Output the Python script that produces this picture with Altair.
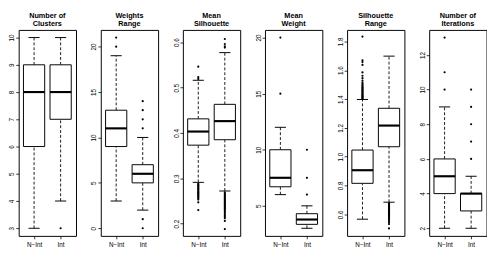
import altair as alt
import pandas as pd

groups = ["N−Int", "Int"]
positions = [1, 2]

titles = [["Number of", "Clusters"], ["Weights", "Range"], ["Mean", "Silhouette"],
          ["Mean", "Weight"], ["Silhouette", "Range"], ["Number of", "Iterations"]]

# per panel: [N-Int, Int]
whisk_lo = [[3, 4], [3, 2], [0.291, 0.272], [6, 3], [0.566, 0.684], [2, 2]]
quart_1 = [[6, 7], [9, 5], [0.373, 0.385], [6.7, 3.35], [0.815, 1.069], [4, 3]]
medians = [[8, 8], [11, 6], [0.403, 0.426], [7.5, 3.78], [0.906, 1.216], [5, 4]]
quart_3 = [[9, 9], [13, 7], [0.431, 0.463], [10, 4.3], [1.046, 1.336], [6, 4]]
whisk_hi = [[10, 10], [19, 10], [0.516, 0.577], [12, 5], [1.397, 1.698], [9, 5]]

out_nint = [
    [],
    [20, 21],
    [0.519, 0.523, 0.546, 0.288, 0.286, 0.284, 0.282, 0.280, 0.278, 0.276, 0.274, 0.272,
     0.270, 0.268, 0.266, 0.264, 0.262, 0.260, 0.258, 0.256, 0.253, 0.247, 0.230],
    [15, 20],
    [1.400, 1.405, 1.410, 1.415, 1.420, 1.425, 1.430, 1.436, 1.442, 1.448, 1.454, 1.460,
     1.466, 1.472, 1.478, 1.484, 1.490, 1.497, 1.505, 1.515, 1.528, 1.545, 1.562, 1.585,
     1.637, 1.657, 1.669, 1.834],
    [10, 11, 13],
]
out_int = [
    [3],
    [0, 1, 11, 12, 13, 14],
    [0.588, 0.591, 0.596, 0.607, 0.269, 0.266, 0.264, 0.262, 0.260, 0.258, 0.256, 0.254,
     0.252, 0.250, 0.248, 0.246, 0.244, 0.242, 0.240, 0.238, 0.236, 0.234, 0.232, 0.230,
     0.227, 0.224, 0.221, 0.218, 0.215, 0.212, 0.206, 0.188],
    [6, 7.5, 10],
    [0.678, 0.672, 0.667, 0.662, 0.657, 0.652, 0.647, 0.642, 0.637, 0.632, 0.627, 0.622,
     0.617, 0.612, 0.607, 0.602, 0.597, 0.592, 0.586, 0.580, 0.572, 0.563, 0.553, 0.545,
     0.532, 0.502],
    [6, 7, 8, 9, 10],
]

y_domains = [[2.72, 10.28], [-0.84, 21.84], [0.173, 0.627], [2.32, 20.68], [0.45, 1.88], [1.56, 13.44]]
y_ticks = [[3, 4, 5, 6, 7, 8, 9, 10], [0, 5, 10, 15, 20], [0.2, 0.3, 0.4, 0.5, 0.6],
           [5, 10, 15, 20], [0.6, 0.8, 1.0, 1.2, 1.4, 1.6, 1.8], [2, 4, 6, 8, 10, 12]]
y_formats = ["d", "d", ".1f", "d", ".1f", "d"]

FONT = "Liberation Sans"


def panel(i):
    stats = pd.DataFrame({
        "pos": positions, "grp": groups,
        "lo": whisk_lo[i], "q1": quart_1[i], "med": medians[i],
        "q3": quart_3[i], "hi": whisk_hi[i],
    })
    outs = pd.DataFrame({
        "pos": [1] * len(out_nint[i]) + [2] * len(out_int[i]),
        "v": out_nint[i] + out_int[i],
    })
    xs = alt.Scale(domain=[0.42, 2.58], nice=False, zero=False)
    ys = alt.Scale(domain=y_domains[i], nice=False, zero=False)
    xax = alt.Axis(values=[1, 2], labelExpr="datum.value == 1 ? 'N−Int' : 'Int'",
                   title=None, grid=False, domain=False, tickSize=3, labelPadding=3)
    yax = alt.Axis(values=y_ticks[i], format=y_formats[i], title=None, grid=False,
                   domain=False, tickSize=3, labelAngle=-90, labelPadding=1,
                   minExtent=10, maxExtent=10)
    base = alt.Chart(stats).transform_calculate(
        bl="datum.pos - 0.4", br="datum.pos + 0.4",
        cl="datum.pos - 0.21", cr="datum.pos + 0.21")

    def X(f):
        return alt.X(f, type="quantitative", scale=xs, axis=xax)

    def Y(f):
        return alt.Y(f, type="quantitative", scale=ys, axis=yax)

    wl = base.mark_rule(color="black", strokeDash=[3, 2], strokeWidth=0.9).encode(
        x=X("pos"), y=Y("lo"), y2="q1")
    wh = base.mark_rule(color="black", strokeDash=[3, 2], strokeWidth=0.9).encode(
        x=X("pos"), y=Y("q3"), y2="hi")
    cl = base.mark_rule(color="black", strokeWidth=1).encode(x=X("cl"), x2="cr", y=Y("lo"))
    ch = base.mark_rule(color="black", strokeWidth=1).encode(x=X("cl"), x2="cr", y=Y("hi"))
    box = base.mark_rect(fill="white", stroke="black", strokeWidth=1).encode(
        x=X("bl"), x2="br", y=Y("q1"), y2="q3")
    med = base.mark_rule(color="black", strokeWidth=2.2).encode(x=X("bl"), x2="br", y=Y("med"))
    pts = alt.Chart(outs).mark_circle(size=5, color="black", opacity=1).encode(
        x=X("pos"), y=Y("v"))
    return alt.layer(wl, wh, cl, ch, box, med, pts).properties(
        width=59, height=212,
        title=alt.TitleParams(text=titles[i], fontSize=7.5, fontWeight="bold", font=FONT,
                              lineHeight=8, offset=3, anchor="middle", color="black"))


chart = alt.hconcat(*[panel(i) for i in range(6)], spacing=13.5).properties(
    padding=0
).configure_view(stroke="black", strokeWidth=1).configure_axis(
    labelFont=FONT, labelFontSize=6.5, labelColor="black", tickColor="black", tickWidth=0.8
)

chart.save("out.html", embed_options={"renderer": "svg", "actions": False})
